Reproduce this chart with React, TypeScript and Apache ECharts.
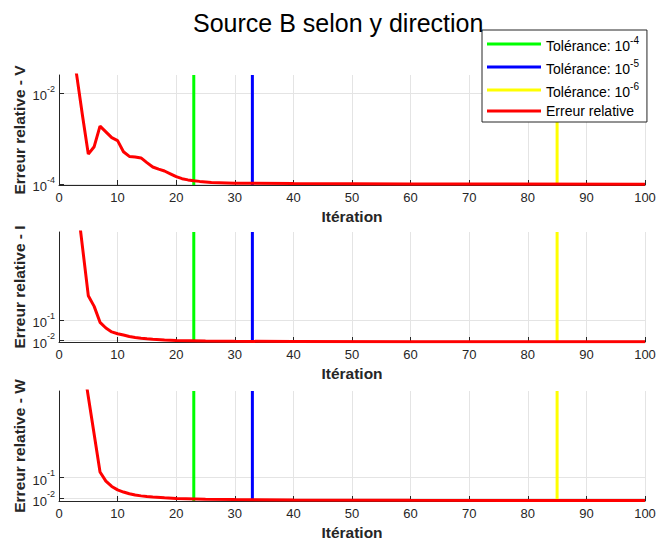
import React, { useEffect, useRef } from 'react';
import * as echarts from 'echarts';

// ---- Data ----
const titleText = 'Source B selon y direction';
const xAxisName = 'Itération';
const panelNames = ['Erreur relative - V', 'Erreur relative - I', 'Erreur relative - W'];

const iterV = [1, 2, 3, 4, 5, 6, 7, 8, 9, 10, 11, 12, 13, 14, 15, 16, 17, 18, 19, 20, 21, 22, 23, 24, 26, 30, 40, 60, 100];
const errV = [0.5, 0.15, 0.026, 0.0033, 0.00046, 0.00067, 0.0019, 0.00142, 0.00106, 0.00091, 0.00052, 0.00041, 0.0004, 0.00038, 0.0003, 0.00024, 0.000215, 0.000196, 0.00017, 0.000147, 0.000133, 0.000125, 0.00012, 0.000116, 0.00011, 0.000106, 0.000104, 0.000102, 0.0001];

const iterI = [1, 2, 3, 4, 5, 6, 7, 8, 9, 10, 11, 12, 13, 14, 15, 16, 18, 20, 25, 30, 40, 60, 100];
const errI = [1e7, 1e6, 1.1e5, 430, 1.65, 0.49, 0.08, 0.042, 0.027, 0.022, 0.019, 0.016, 0.0145, 0.0133, 0.0123, 0.0116, 0.0108, 0.0102, 0.0096, 0.0093, 0.0091, 0.0089, 0.0088];

const iterW = [1, 2, 3, 4, 5, 6, 7, 8, 9, 10, 11, 12, 13, 14, 15, 16, 18, 20, 25, 30, 40, 60, 100];
const errW = [1e8, 1e7, 1e6, 45000, 700, 11.5, 0.185, 0.068, 0.038, 0.026, 0.0205, 0.017, 0.0148, 0.0135, 0.0125, 0.0118, 0.0109, 0.0102, 0.0094, 0.009, 0.0086, 0.0083, 0.0081];

const tolIterations = [23, 33, 85];
const tolExponents = [-4, -5, -6];
const tolColors = ['#00ff00', '#0000ff', '#ffff00'];
const errColor = '#ff0000';
const errName = 'Erreur relative';

const yTicksV = [1e-4, 1e-2];
const yTicksI = [1e-2, 1e-1];
const yTicksW = [1e-2, 1e-1];
const yRangeV = [9.66e-5, 0.0252];
const yRangeI = [0.0086, 2265];
const yRangeW = [0.0077, 1318];

const tolName = (e: number) => `Tolérance: 10^${e}`;

export default function App() {
  const ref = useRef<HTMLDivElement>(null);
  useEffect(() => {
    if (!ref.current) return;
    const chart = echarts.init(ref.current, undefined, { renderer: 'svg' });
    const font = '"Liberation Sans", Arial, Helvetica, sans-serif';
    const dark = '#262626';
    const gridCol = '#e4e4e4';
    const tops = [75, 232, 391];
    const panelH = 110;
    const iters = [iterV, iterI, iterW];
    const errs = [errV, errI, errW];
    const yTicks = [yTicksV, yTicksI, yTicksW];
    const yRanges = [yRangeV, yRangeI, yRangeW];

    const grids = tops.map((t) => ({ left: 59, right: 14, top: t, height: panelH, outerBoundsMode: 'none', containLabel: false }));
    const xAxes = tops.map((_, i) => ({
      type: 'value',
      gridIndex: i,
      min: 0,
      max: 100,
      interval: 10,
      name: xAxisName,
      nameLocation: 'middle',
      nameGap: 23,
      nameMoveOverlap: false,
      nameTextStyle: { fontFamily: font, fontSize: 15.5, fontWeight: 'bold', color: dark },
      axisLine: { show: true, onZero: false, lineStyle: { color: dark, width: 1 } },
      axisTick: { show: true, inside: true, length: 5, lineStyle: { color: dark } },
      axisLabel: { fontFamily: font, fontSize: 13, color: dark, margin: 6 },
      splitLine: { show: true, lineStyle: { color: gridCol, width: 1 } },
    }));
    const yAxes = tops.map((_, i) => ({
      type: 'log',
      logBase: 10,
      gridIndex: i,
      min: yRanges[i][0],
      max: yRanges[i][1],
      name: panelNames[i],
      nameLocation: 'middle',
      nameGap: 32,
      nameMoveOverlap: false,
      nameTextStyle: { fontFamily: font, fontSize: 15.5, fontWeight: 'bold', color: dark },
      axisLine: { show: true, lineStyle: { color: dark, width: 1 } },
      axisTick: { show: true, inside: true, length: 5, customValues: yTicks[i], lineStyle: { color: dark } },
      axisLabel: {
        customValues: yTicks[i],
        margin: 4,
        formatter: (v: number) => `{b|10}{e|${Math.round(Math.log10(v))}}`,
        rich: {
          b: { fontFamily: font, fontSize: 13, color: dark, verticalAlign: 'bottom', lineHeight: 18 },
          e: { fontFamily: font, fontSize: 9, color: dark, verticalAlign: 'top', lineHeight: 10 },
        },
      },
      splitLine: { show: true, lineStyle: { color: gridCol, width: 1 } },
    }));

    const series: any[] = [];
    tops.forEach((_, i) => {
      tolIterations.forEach((it, k) => {
        series.push({
          type: 'line',
          name: tolName(tolExponents[k]),
          xAxisIndex: i,
          yAxisIndex: i,
          data: [[it, yRanges[i][0]], [it, yRanges[i][1]]],
          symbol: 'none',
          lineStyle: { color: tolColors[k], width: 3 },
          itemStyle: { color: tolColors[k] },
          clip: true,
        });
      });
      series.push({
        type: 'line',
        name: errName,
        xAxisIndex: i,
        yAxisIndex: i,
        data: iters[i].map((x, j) => [x, errs[i][j]]),
        symbol: 'none',
        lineStyle: { color: errColor, width: 3 },
        itemStyle: { color: errColor },
        clip: true,
      });
    });

    chart.setOption({
      animation: false,
      backgroundColor: '#ffffff',
      title: {
        text: titleText,
        left: 188,
        top: 5,
        textStyle: { fontFamily: font, fontSize: 25, fontWeight: 'normal', color: '#000' },
      },
      legend: {
        orient: 'vertical',
        left: 482,
        top: 30,
        data: [...tolExponents.map(tolName), errName],
        icon: 'rect',
        itemWidth: 54,
        itemHeight: 3,
        itemGap: 5,
        padding: [5, 8, 4, 5],
        backgroundColor: '#ffffff',
        borderColor: dark,
        borderWidth: 1,
        borderRadius: 0,
        formatter: (name: string) => {
          const m = name.match(/^(.*10)\^(-?\d+)$/);
          if (m) return `{n|${m[1]}}{s|${m[2]}}`;
          return `{p|${name}}`;
        },
        textStyle: {
          rich: {
            n: { fontFamily: font, fontSize: 14, color: '#000', verticalAlign: 'bottom', lineHeight: 18 },
            s: { fontFamily: font, fontSize: 10, color: '#000', verticalAlign: 'top', lineHeight: 10 },
            p: { fontFamily: font, fontSize: 14, color: '#000', lineHeight: 20 },
          },
        },
      },
      grid: grids,
      xAxis: xAxes,
      yAxis: yAxes,
      series,
    });
    return () => chart.dispose();
  }, []);
  return <div ref={ref} style={{ position: 'fixed', left: 0, top: 0, width: 659, height: 542 }} />;
}
